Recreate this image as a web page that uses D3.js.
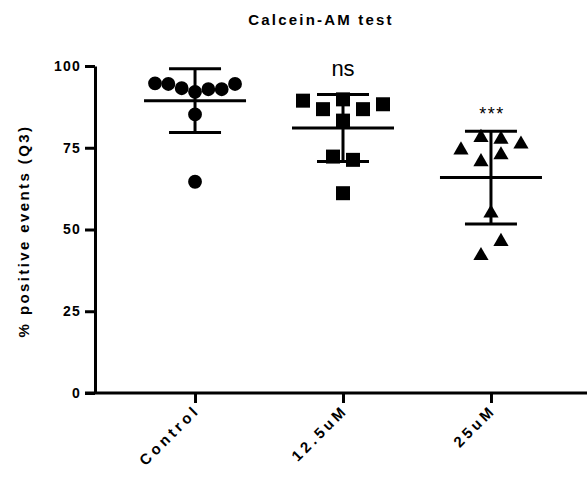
<!DOCTYPE html>
<html>
<head>
<meta charset="utf-8">
<script src="https://cdn.jsdelivr.net/npm/d3@7"></script>
<style>
  body { margin: 0; background: #fff; }
  text { font-family: "Liberation Sans", Arial, sans-serif; fill: #000; }
</style>
</head>
<body>
<svg id="chart" width="587" height="483"></svg>
<script>
// Calcein-AM assay: % positive events (Q3) per treatment group
const categories = ["Control", "12.5uM", "25uM"];
const controlValues = [94.7, 94.5, 93.2, 92.1, 92.9, 92.9, 94.5, 85.2, 64.6];
const conc12Values = [89.4, 86.8, 89.8, 86.8, 88.3, 83.3, 72.3, 71.3, 61.1];
const conc25Values = [74.3, 78.1, 77.6, 76.1, 70.7, 72.8, 55.0, 42.0, 46.3];
const yTickValues = [0, 25, 50, 75, 100];
const significance = ["", "ns", "***"];

const groups = [controlValues, conc12Values, conc25Values];
const symbolTypes = [d3.symbolCircle, d3.symbolSquare, d3.symbolTriangle];
const symbolSizes = [150, 196, 100];

const svg = d3.select("#chart");
const W = 587, H = 483;
const plotLeft = 95, plotBottom = 393, plotTop = 66;

const y = d3.scaleLinear().domain([0, 100]).range([plotBottom, plotTop]);
const x = d3.scalePoint().domain(categories).range([plotLeft, 591]).padding(0.676);

// Title
svg.append("text")
  .attr("x", 321).attr("y", 25)
  .attr("text-anchor", "middle")
  .style("font-size", "15px").style("font-weight", "bold")
  .style("letter-spacing", "2.2px")
  .text("Calcein-AM test");

// Y axis label
svg.append("text")
  .attr("transform", "translate(29,231) rotate(-90)")
  .attr("text-anchor", "middle")
  .style("font-size", "15px").style("font-weight", "bold")
  .style("letter-spacing", "2.4px")
  .text("% positive events (Q3)");

// Y axis
const yAxis = svg.append("g")
  .attr("transform", `translate(${plotLeft},0)`)
  .call(d3.axisLeft(y).tickValues(yTickValues).tickSize(10).tickSizeOuter(0).tickPadding(4));
yAxis.attr("font-family", null).attr("font-size", null);
yAxis.select(".domain").attr("stroke", "#000").attr("stroke-width", 3);
yAxis.selectAll(".tick line").attr("stroke", "#000").attr("stroke-width", 3);
yAxis.selectAll(".tick text")
  .style("font-size", "14px").style("font-weight", "bold")
  .style("letter-spacing", "1.2px");

// X axis
const xAxis = svg.append("g")
  .attr("transform", `translate(0,${plotBottom})`)
  .call(d3.axisBottom(x).tickSize(10).tickSizeOuter(0).tickFormat(""));
xAxis.select(".domain").attr("d", `M${plotLeft - 10},0H${W}`)
  .attr("stroke", "#000").attr("stroke-width", 3);
xAxis.selectAll(".tick line").attr("stroke", "#000").attr("stroke-width", 3);

// Rotated category labels
svg.append("g").selectAll("text")
  .data(categories)
  .join("text")
  .attr("transform", d => `translate(${x(d) + 6},${plotBottom + 18}) rotate(-45)`)
  .attr("text-anchor", "end")
  .style("font-size", "15px").style("font-weight", "bold")
  .style("letter-spacing", "3.6px")
  .text(d => d);

// Spread points of similar value into centred horizontal rows
function spreadOffsets(values, rowGap, spacing, maxHalf) {
  const order = d3.range(values.length).sort((a, b) => values[b] - values[a]);
  const rows = [];
  let row = null;
  order.forEach(i => {
    if (!row || Math.abs(y(values[i]) - y(values[row[0]])) > rowGap) {
      row = [i];
      rows.push(row);
    } else {
      row.push(i);
    }
  });
  const offsets = new Array(values.length).fill(0);
  rows.forEach(r => {
    r.sort((a, b) => a - b);
    const n = r.length;
    const step = n > 1 ? Math.min(spacing, (2 * maxHalf) / (n - 1)) : 0;
    r.forEach((i, k) => { offsets[i] = (k - (n - 1) / 2) * step; });
  });
  return offsets;
}

groups.forEach((vals, gi) => {
  const cx = x(categories[gi]);
  const offsets = spreadOffsets(vals, 15, 20, 40);
  const g = svg.append("g");

  g.selectAll("path")
    .data(vals)
    .join("path")
    .attr("d", d3.symbol().type(symbolTypes[gi]).size(symbolSizes[gi]))
    .attr("transform", (d, i) => `translate(${cx + offsets[i]},${y(d)})`)
    .attr("fill", "#000");

  // Mean with SD error bar
  const m = d3.mean(vals), sd = d3.deviation(vals);
  const bars = svg.append("g").attr("stroke", "#000").attr("stroke-width", 3).attr("fill", "none");
  bars.append("line").attr("x1", cx - 51).attr("x2", cx + 51).attr("y1", y(m)).attr("y2", y(m));
  bars.append("line").attr("x1", cx).attr("x2", cx).attr("y1", y(m - sd)).attr("y2", y(m + sd));
  bars.append("line").attr("x1", cx - 26).attr("x2", cx + 26).attr("y1", y(m + sd)).attr("y2", y(m + sd));
  bars.append("line").attr("x1", cx - 26).attr("x2", cx + 26).attr("y1", y(m - sd)).attr("y2", y(m - sd));

  // Significance marker above the upper error bar
  if (significance[gi] === "ns") {
    svg.append("text").attr("x", cx).attr("y", 76)
      .attr("text-anchor", "middle").style("font-size", "22px")
      .text(significance[gi]);
  } else if (significance[gi]) {
    svg.append("text").attr("x", cx + 1).attr("y", 120)
      .attr("text-anchor", "middle").style("font-size", "18px")
      .style("letter-spacing", "1.5px")
      .text(significance[gi]);
  }
});
</script>
</body>
</html>
